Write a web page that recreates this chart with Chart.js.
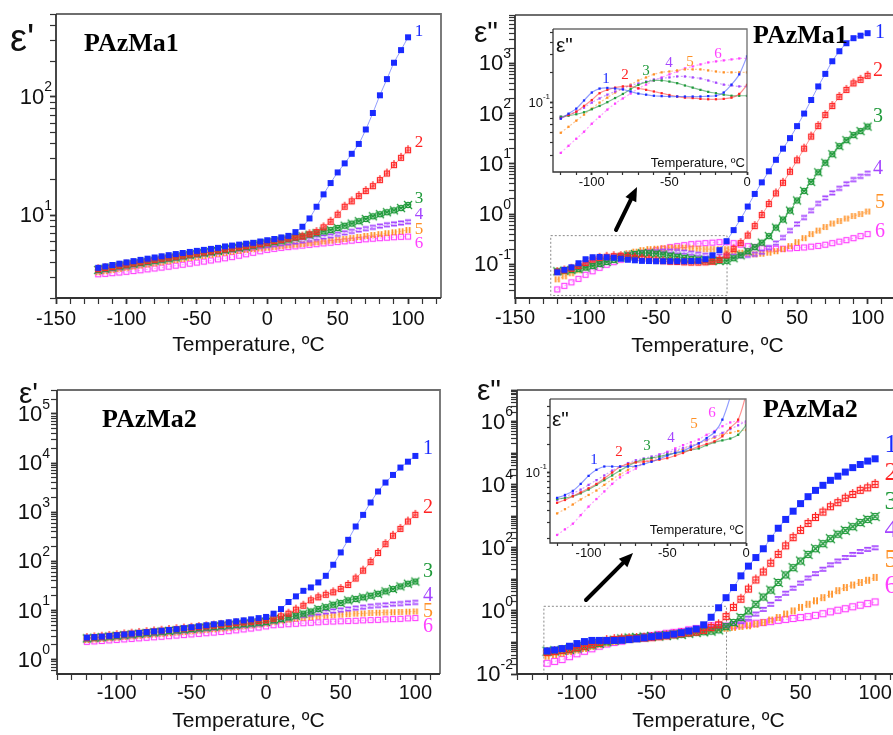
<!DOCTYPE html>
<html>
<head>
<meta charset="utf-8">
<script src="https://cdn.jsdelivr.net/npm/chart.js@4.4.1/dist/chart.umd.min.js"></script>
<style>
  html, body { margin: 0; padding: 0; background: #fff; }
  body { width: 893px; height: 735px; overflow: hidden; position: relative; }
  canvas { position: absolute; }
</style>
</head>
<body>
<canvas id="c1" width="450" height="362" style="left:0;top:0"></canvas>
<canvas id="c2" width="460" height="362" style="left:445px;top:0"></canvas>
<canvas id="c3" width="450" height="373" style="left:0;top:362px"></canvas>
<canvas id="c4" width="460" height="373" style="left:445px;top:362px"></canvas>
<canvas id="i1" width="240" height="182" style="left:515px;top:20px"></canvas>
<canvas id="i2" width="245" height="180" style="left:510px;top:390px"></canvas>
<script>
// temperatures, ºC
var temps = [-120, -115, -110, -105, -100, -95, -90, -85, -80, -75, -70, -65, -60, -55, -50, -45, -40, -35, -30, -25, -20, -15, -10, -5, 0,
  5, 10, 15, 20, 25, 30, 35, 40, 45, 50, 55, 60, 65, 70, 75, 80, 85, 90, 95, 100];
var curveNames = ['1', '2', '3', '4', '5', '6'];

// PAzMa1, eps'
var pa1Re1 = [3.6, 3.7, 3.8, 3.9, 4.0, 4.1, 4.2, 4.3, 4.4, 4.5, 4.6, 4.7, 4.8, 4.9, 5.0, 5.1, 5.2, 5.3, 5.45, 5.55, 5.65, 5.75, 5.85, 6.0, 6.15,
  6.3, 6.5, 6.7, 7.2, 8.0, 9.4, 11.8, 15.0, 18.7, 23, 27.4, 33, 40, 53, 73, 103, 141, 194, 248, 318];
var pa1Re2 = [3.5, 3.58, 3.65, 3.74, 3.83, 3.92, 4.0, 4.1, 4.2, 4.3, 4.38, 4.47, 4.56, 4.66, 4.75, 4.85, 4.95, 5.05, 5.15, 5.25, 5.36, 5.47, 5.58, 5.7, 5.85,
  6.05, 6.2, 6.35, 6.5, 6.6, 6.9, 7.2, 7.9, 8.8, 10.1, 11.8, 13.1, 14.5, 16, 17.6, 19.8, 22.5, 26.5, 30.5, 35.4];
var pa1Re3 = [3.45, 3.53, 3.61, 3.7, 3.78, 3.87, 3.95, 4.04, 4.13, 4.22, 4.31, 4.4, 4.5, 4.6, 4.69, 4.79, 4.89, 4.99, 5.09, 5.2, 5.3, 5.41, 5.52, 5.68, 5.8,
  5.95, 6.1, 6.25, 6.45, 6.65, 6.85, 7.05, 7.3, 7.5, 7.8, 8.15, 8.5, 8.9, 9.3, 9.8, 10.2, 10.6, 11.0, 11.5, 12.2];
var pa1Re4 = [3.4, 3.48, 3.56, 3.64, 3.72, 3.8, 3.89, 3.98, 4.07, 4.16, 4.25, 4.34, 4.43, 4.52, 4.61, 4.7, 4.79, 4.88, 4.98, 5.08, 5.18, 5.28, 5.38, 5.47, 5.55,
  5.65, 5.75, 5.85, 5.95, 6.1, 6.25, 6.4, 6.55, 6.7, 6.9, 7.1, 7.3, 7.5, 7.7, 7.9, 8.1, 8.3, 8.45, 8.6, 8.8];
var pa1Re5 = [3.3, 3.37, 3.45, 3.52, 3.6, 3.68, 3.76, 3.84, 3.92, 4.0, 4.09, 4.18, 4.27, 4.36, 4.45, 4.54, 4.63, 4.72, 4.82, 4.92, 5.01, 5.1, 5.18, 5.25, 5.32,
  5.4, 5.48, 5.56, 5.64, 5.72, 5.8, 5.9, 6.0, 6.1, 6.2, 6.3, 6.42, 6.55, 6.68, 6.8, 6.92, 7.05, 7.18, 7.32, 7.5];
var pa1Re6 = [3.17, 3.2, 3.24, 3.28, 3.33, 3.38, 3.43, 3.49, 3.55, 3.61, 3.68, 3.75, 3.82, 3.9, 3.98, 4.06, 4.15, 4.24, 4.33, 4.43, 4.55, 4.68, 4.82, 4.96, 5.1,
  5.2, 5.3, 5.38, 5.46, 5.54, 5.62, 5.7, 5.78, 5.86, 5.94, 6.02, 6.1, 6.18, 6.26, 6.33, 6.4, 6.46, 6.52, 6.57, 6.6];

// PAzMa1, eps''
var pa1Im1 = [0.0692, 0.0776, 0.0871, 0.105, 0.126, 0.138, 0.140, 0.138, 0.135, 0.129, 0.123, 0.120, 0.117, 0.116, 0.115, 0.115, 0.115, 0.115, 0.115, 0.116, 0.117, 0.126, 0.151, 0.191, 0.288,
  0.479, 0.794, 1.41, 2.51, 4.27, 7.08, 12.0, 20.0, 32.4, 56.2, 100, 186, 347, 617, 1100, 1740, 2510, 3160, 3550, 3980];
var pa1Im2 = [0.0698, 0.0753, 0.0813, 0.0927, 0.106, 0.124, 0.134, 0.141, 0.145, 0.145, 0.139, 0.134, 0.129, 0.124, 0.119, 0.115, 0.112, 0.111, 0.109, 0.108, 0.108, 0.109, 0.112, 0.122, 0.150,
  0.200, 0.263, 0.372, 0.575, 0.955, 1.58, 2.57, 4.17, 6.92, 11.7, 20.0, 34.7, 56.2, 93.3, 141, 214, 295, 398, 468, 562];
var pa1Im3 = [0.0724, 0.0741, 0.0766, 0.0802, 0.0859, 0.0927, 0.101, 0.111, 0.122, 0.136, 0.150, 0.160, 0.166, 0.166, 0.162, 0.156, 0.148, 0.141, 0.134, 0.128, 0.124, 0.120, 0.117, 0.117, 0.117,
  0.132, 0.151, 0.182, 0.219, 0.269, 0.363, 0.537, 0.776, 1.17, 1.86, 2.88, 4.37, 6.76, 10.5, 15.5, 22.4, 29.5, 37.2, 44.7, 55.0];
var pa1Im4 = [0.0724, 0.0759, 0.0813, 0.0891, 0.100, 0.110, 0.120, 0.129, 0.138, 0.148, 0.155, 0.162, 0.170, 0.174, 0.178, 0.182, 0.182, 0.178, 0.174, 0.166, 0.158, 0.151, 0.148, 0.145, 0.145,
  0.145, 0.148, 0.151, 0.158, 0.174, 0.214, 0.263, 0.339, 0.468, 0.631, 0.851, 1.17, 1.62, 2.09, 2.63, 3.24, 3.98, 4.84, 5.62, 6.46];
var pa1Im5 = [0.0501, 0.0575, 0.0661, 0.0759, 0.0871, 0.100, 0.112, 0.126, 0.138, 0.151, 0.166, 0.178, 0.191, 0.200, 0.204, 0.209, 0.214, 0.214, 0.214, 0.209, 0.204, 0.200, 0.200, 0.200, 0.200,
  0.182, 0.170, 0.162, 0.158, 0.162, 0.170, 0.182, 0.200, 0.229, 0.275, 0.331, 0.398, 0.468, 0.550, 0.646, 0.724, 0.813, 0.912, 1.0, 1.12];
var pa1Im6 = [0.0316, 0.0372, 0.0437, 0.0513, 0.0617, 0.0724, 0.0851, 0.0977, 0.110, 0.123, 0.138, 0.151, 0.166, 0.178, 0.191, 0.204, 0.219, 0.229, 0.240, 0.251, 0.257, 0.263, 0.269, 0.275, 0.275,
  0.263, 0.245, 0.229, 0.219, 0.209, 0.204, 0.204, 0.204, 0.207, 0.211, 0.216, 0.224, 0.232, 0.245, 0.263, 0.282, 0.302, 0.331, 0.363, 0.398];

// PAzMa2, eps'
var pa2Re1 = [2.82, 2.88, 2.95, 3.05, 3.16, 3.27, 3.39, 3.51, 3.63, 3.76, 3.89, 4.03, 4.17, 4.37, 4.57, 4.79, 5.01, 5.25, 5.50, 5.75, 6.03, 6.31, 6.61, 7.0, 7.41,
  8.61, 10.7, 14.9, 19.4, 25.2, 29.5, 37.3, 50.9, 85.3, 152, 275, 513, 885, 1580, 2640, 4020, 5750, 8110, 10700, 14000];
var pa2Re2 = [2.75, 2.84, 2.93, 3.04, 3.15, 3.26, 3.38, 3.5, 3.62, 3.75, 3.88, 4.02, 4.16, 4.3, 4.45, 4.6, 4.76, 4.93, 5.1, 5.3, 5.5, 5.7, 5.9, 6.1, 6.3,
  6.81, 7.59, 8.61, 10.4, 12.5, 16.1, 18.5, 20.9, 23.4, 27.3, 33.1, 44.7, 64.6, 96.6, 148, 224, 331, 457, 646, 885];
var pa2Re3 = [2.7, 2.78, 2.86, 2.95, 3.05, 3.15, 3.25, 3.36, 3.47, 3.58, 3.7, 3.82, 3.95, 4.08, 4.21, 4.35, 4.5, 4.65, 4.8, 4.96, 5.12, 5.28, 5.45, 5.65, 5.84,
  6.31, 6.71, 7.24, 7.83, 8.61, 9.55, 10.7, 11.7, 13.1, 14.2, 16.1, 17.1, 18.5, 20.0, 21.9, 24.5, 27.3, 30.9, 35.1, 38.9];
var pa2Re4 = [2.63, 2.7, 2.78, 2.86, 2.95, 3.04, 3.13, 3.23, 3.33, 3.44, 3.55, 3.66, 3.78, 3.9, 4.02, 4.15, 4.28, 4.42, 4.56, 4.7, 4.85, 5.0, 5.16, 5.35, 5.6,
  6.17, 6.61, 7.08, 7.5, 7.94, 8.41, 8.91, 9.33, 9.77, 10.2, 10.7, 11.2, 11.7, 12.2, 12.6, 13.0, 13.5, 13.8, 14.3, 14.6];
var pa2Re5 = [2.51, 2.58, 2.65, 2.73, 2.81, 2.89, 2.98, 3.07, 3.16, 3.26, 3.36, 3.46, 3.57, 3.68, 3.8, 3.92, 4.04, 4.17, 4.3, 4.44, 4.6, 4.78, 4.98, 5.2, 5.45,
  5.89, 6.24, 6.53, 6.84, 7.08, 7.33, 7.59, 7.85, 8.04, 8.22, 8.41, 8.61, 8.71, 8.91, 9.02, 9.12, 9.23, 9.33, 9.44, 9.55];
var pa2Re6 = [2.3, 2.35, 2.4, 2.46, 2.52, 2.58, 2.64, 2.71, 2.78, 2.85, 2.92, 3.0, 3.08, 3.17, 3.26, 3.35, 3.45, 3.55, 3.66, 3.8, 3.95, 4.12, 4.3, 4.5, 4.75,
  5.01, 5.13, 5.25, 5.37, 5.5, 5.62, 5.75, 5.89, 5.96, 6.03, 6.1, 6.17, 6.31, 6.38, 6.46, 6.61, 6.68, 6.76, 6.92, 7.03];

// PAzMa2, eps''
var pa2Im1 = [0.054, 0.058, 0.064, 0.0759, 0.0923, 0.107, 0.116, 0.116, 0.116, 0.116, 0.117, 0.123, 0.130, 0.140, 0.151, 0.162, 0.170, 0.186, 0.204, 0.232, 0.267, 0.363, 0.631, 1.26, 2.63,
  5.5, 12.9, 26.3, 49.0, 93.3, 200, 417, 794, 1450, 2510, 4170, 6610, 9550, 13800, 18600, 25100, 34700, 43700, 56200, 66100];
var pa2Im2 = [0.0479, 0.0513, 0.0562, 0.0617, 0.0682, 0.0759, 0.0871, 0.1, 0.115, 0.123, 0.128, 0.131, 0.133, 0.137, 0.142, 0.151, 0.161, 0.175, 0.189, 0.201, 0.214, 0.242, 0.297, 0.363, 0.66,
  1.29, 2.34, 4.9, 9.55, 17.0, 32.4, 61.7, 115, 209, 355, 589, 912, 1350, 2000, 2690, 3720, 4900, 6610, 7940, 10200];
var pa2Im3 = [0.0525, 0.0537, 0.0562, 0.0603, 0.0661, 0.0741, 0.0832, 0.0933, 0.105, 0.117, 0.129, 0.138, 0.143, 0.148, 0.155, 0.160, 0.166, 0.174, 0.180, 0.195, 0.209, 0.219, 0.229, 0.251, 0.316,
  0.427, 0.617, 1.0, 1.62, 2.75, 4.57, 7.94, 13.8, 23.4, 38.0, 61.7, 93.3, 135, 195, 269, 355, 468, 631, 794, 977];
var pa2Im4 = [0.0513, 0.055, 0.0603, 0.0661, 0.0741, 0.0832, 0.0933, 0.105, 0.115, 0.126, 0.135, 0.141, 0.148, 0.155, 0.162, 0.172, 0.182, 0.193, 0.204, 0.221, 0.240, 0.263, 0.288, 0.316, 0.347,
  0.398, 0.457, 0.589, 0.794, 1.12, 1.62, 2.45, 3.63, 5.25, 7.59, 11.0, 15.1, 20.9, 28.8, 38.0, 49.0, 61.7, 75.9, 89.1, 100];
var pa2Im5 = [0.037, 0.041, 0.046, 0.052, 0.058, 0.0646, 0.0741, 0.0851, 0.0955, 0.107, 0.117, 0.126, 0.135, 0.145, 0.155, 0.166, 0.178, 0.191, 0.204, 0.219, 0.234, 0.251, 0.263, 0.275, 0.282,
  0.302, 0.324, 0.339, 0.38, 0.427, 0.513, 0.617, 0.794, 1.0, 1.29, 1.62, 2.09, 2.63, 3.39, 4.37, 5.5, 6.61, 7.94, 9.33, 11.5];
var pa2Im6 = [0.0219, 0.0251, 0.0288, 0.0355, 0.0437, 0.0525, 0.0631, 0.0759, 0.0891, 0.1, 0.110, 0.126, 0.141, 0.155, 0.166, 0.180, 0.195, 0.209, 0.224, 0.251, 0.275, 0.309, 0.339, 0.347, 0.331,
  0.339, 0.363, 0.38, 0.407, 0.427, 0.457, 0.501, 0.537, 0.575, 0.617, 0.661, 0.724, 0.813, 0.933, 1.05, 1.17, 1.35, 1.51, 1.70, 1.93];

// axis ticks
var xTicksTop = [-150, -100, -50, 0, 50, 100];
var xTicksBottom = [-100, -50, 0, 50, 100];
var xTicksInset = [-100, -50, 0];
var yExpRe1 = [1, 2];
var yExpIm1 = [-1, 0, 1, 2, 3];
var yExpRe2 = [0, 1, 2, 3, 4, 5];
var yExpIm2 = [-2, 0, 2, 4, 6];
var yExpInset = [-1];

var SANS = '"Liberation Sans", Arial, sans-serif';
var SERIF = '"Liberation Serif", "Times New Roman", serif';
Chart.defaults.font.family = SANS;

var colors = ['#1a2bff', '#ff2424', '#1f9a3a', '#a445ff', '#ff9126', '#ff40ff'];
var lineColors = ['rgba(70,90,255,0.6)', 'rgba(255,70,70,0.6)', 'rgba(40,150,70,0.6)',
  'rgba(170,90,255,0.55)', 'rgba(255,150,60,0.55)', 'rgba(255,90,255,0.55)'];
var kinds = ['fill', 'boxPlus', 'circX', 'eq', 'pipes', 'box'];

// small canvases used as point styles
function marker(kind, color, s) {
  var c = document.createElement('canvas');
  var n = s + 6;
  c.width = n; c.height = n;
  var g = c.getContext('2d');
  var m = n / 2, h = s / 2;
  g.strokeStyle = color; g.fillStyle = color; g.lineWidth = 1.2;
  g.beginPath();
  if (kind === 'fill') {
    g.fillRect(m - h, m - h, s, s);
  } else if (kind === 'box') {
    g.strokeRect(m - h + 0.5, m - h + 0.5, s - 1, s - 1);
  } else if (kind === 'boxPlus') {
    g.strokeRect(m - h + 0.5, m - h + 0.5, s - 1, s - 1);
    g.moveTo(m, m - h - 2); g.lineTo(m, m + h);
    g.moveTo(m - h, m); g.lineTo(m + h, m);
  } else if (kind === 'circX') {
    g.arc(m, m, h - 0.3, 0, Math.PI * 2);
    g.moveTo(m - h - 1, m - h - 1); g.lineTo(m + h + 1, m + h + 1);
    g.moveTo(m + h + 1, m - h - 1); g.lineTo(m - h - 1, m + h + 1);
  } else if (kind === 'eq') {
    g.lineWidth = 1.6;
    g.moveTo(m - h, m - 1.6); g.lineTo(m + h, m - 1.6);
    g.moveTo(m - h, m + 1.6); g.lineTo(m + h, m + 1.6);
  } else if (kind === 'pipes') {
    g.lineWidth = 1.8;
    g.moveTo(m - 1.6, m - h); g.lineTo(m - 1.6, m + h);
    g.moveTo(m + 1.6, m - h); g.lineTo(m + 1.6, m + h);
  }
  g.stroke();
  return c;
}

function mainSets(series, size) {
  return series.map(function (vals, i) {
    return {
      label: curveNames[i],
      data: temps.map(function (t, j) { return { x: t, y: vals[j] }; }),
      borderColor: lineColors[i],
      borderWidth: 1,
      borderDash: i > 2 ? [2, 2] : [],
      pointStyle: marker(kinds[i], colors[i], size),
      pointRadius: size / 2,
      tension: 0.3
    };
  });
}

function insetSets(series) {
  return series.map(function (vals, i) {
    var pts = [];
    temps.forEach(function (t, j) { if (t <= 0) pts.push({ x: t, y: vals[j] }); });
    return {
      label: curveNames[i],
      data: pts,
      borderColor: lineColors[i],
      borderWidth: 1.2,
      borderDash: i > 2 ? [2, 2] : [],
      pointStyle: 'rect',
      pointRadius: 1.6,
      pointBackgroundColor: colors[i],
      pointBorderWidth: 0,
      tension: 0.35
    };
  });
}

function isDecade(v) {
  var l = Math.log10(v);
  return Math.abs(l - Math.round(l)) < 1e-9;
}

// "10" with a raised exponent, right aligned at x
function drawPow(ctx, x, y, e, size) {
  var sup = String(e), sSize = Math.round(size * 0.64);
  ctx.font = sSize + 'px ' + SANS;
  var ws = ctx.measureText(sup).width;
  ctx.font = size + 'px ' + SANS;
  var wb = ctx.measureText('10').width;
  ctx.fillStyle = '#111';
  ctx.textAlign = 'left';
  ctx.textBaseline = 'middle';
  ctx.fillText('10', x - ws - wb, y + 1);
  ctx.font = sSize + 'px ' + SANS;
  ctx.fillText(sup, x - ws, y - size * 0.42);
}

// per-canvas decoration settings, looked up by canvas id
var panelDecor = {};

function drawAxes(chart, o) {
  var ctx = chart.ctx, a = chart.chartArea, ys = chart.scales.y;
  var L = a.left, R = a.right, T = a.top, B = a.bottom;

  ctx.save();
  ctx.setLineDash([]);
  ctx.lineWidth = o.small ? 1.3 : 1.8;
  ctx.strokeStyle = '#6e6e6e';
  ctx.beginPath();
  ctx.moveTo(L, T); ctx.lineTo(R, T); ctx.lineTo(R, B);
  ctx.stroke();
  ctx.strokeStyle = '#333';
  ctx.beginPath();
  ctx.moveTo(L, T); ctx.lineTo(L, B); ctx.lineTo(R, B);
  ctx.stroke();

  o.yExp.forEach(function (e) {
    drawPow(ctx, L - o.labelGap, ys.getPixelForValue(Math.pow(10, e)), e, o.ySize);
  });

  var bx = o.box[0], by = o.box[1];
  o.texts.forEach(function (t) {
    ctx.font = t.font;
    ctx.fillStyle = t.color || '#111';
    ctx.textAlign = t.align || 'left';
    ctx.textBaseline = 'alphabetic';
    ctx.fillText(t.text, t.x - bx, t.y - by);
  });

  // curve numbers
  ctx.font = o.names.font;
  ctx.textAlign = 'center';
  ctx.textBaseline = 'middle';
  o.names.pos.forEach(function (p, i) {
    ctx.fillStyle = colors[i];
    ctx.fillText(curveNames[i], p[0] - bx, p[1] - by);
  });

  // arrow pointing at the inset
  if (o.arrow) {
    var r = o.arrow;
    var x1 = r[0] - bx, y1 = r[1] - by, x2 = r[2] - bx, y2 = r[3] - by;
    var ang = Math.atan2(y2 - y1, x2 - x1), c = Math.cos(ang), s = Math.sin(ang);
    var hl = 14, hw = 6;
    ctx.strokeStyle = '#000'; ctx.fillStyle = '#000';
    ctx.lineWidth = 4; ctx.lineCap = 'round';
    ctx.beginPath();
    ctx.moveTo(x1, y1); ctx.lineTo(x2 - hl * 0.8 * c, y2 - hl * 0.8 * s);
    ctx.stroke();
    ctx.beginPath();
    ctx.moveTo(x2, y2);
    ctx.lineTo(x2 - hl * c + hw * s, y2 - hl * s - hw * c);
    ctx.lineTo(x2 - hl * c - hw * s, y2 - hl * s + hw * c);
    ctx.closePath();
    ctx.fill();
  }
  ctx.restore();
}

var decor = {
  id: 'decor',
  beforeDatasetsDraw: function (chart) {
    var o = panelDecor[chart.canvas.id];
    var ctx = chart.ctx, a = chart.chartArea;
    ctx.save();
    if (o.fill) {
      ctx.fillStyle = o.fill;
      ctx.fillRect(a.left, a.top, a.right - a.left, a.bottom - a.top);
    }
    if (o.zoomBox) {
      var xs = chart.scales.x, ys = chart.scales.y, b = o.zoomBox;
      var x0 = xs.getPixelForValue(b.x[0]), x1 = xs.getPixelForValue(b.x[1]);
      var y0 = ys.getPixelForValue(b.y[1]), y1 = ys.getPixelForValue(b.y[0]);
      ctx.setLineDash([2, 2]);
      ctx.strokeStyle = '#8a8a8a';
      ctx.lineWidth = 1;
      ctx.strokeRect(x0 + 0.5, y0 + 0.5, x1 - x0, y1 - y0);
    }
    ctx.restore();
  },
  afterDraw: function (chart) {
    drawAxes(chart, panelDecor[chart.canvas.id]);
  }
};

function makeChart(id, cfg) {
  panelDecor[id] = cfg.decor;
  var tl = cfg.tickLen;
  return new Chart(document.getElementById(id), {
    type: 'line',
    data: { datasets: cfg.sets },
    options: {
      responsive: false,
      animation: false,
      devicePixelRatio: 1,
      layout: { padding: cfg.pad },
      plugins: { legend: { display: false }, tooltip: { enabled: false } },
      scales: {
        x: {
          type: 'linear', min: cfg.x[0], max: cfg.x[1],
          // tick marks only, every 10 degrees; labelled ones are wider
          grid: {
            display: true, drawOnChartArea: false, drawTicks: true, tickLength: tl, tickColor: '#333',
            tickWidth: function (c) { return c.tick && cfg.xTicks.indexOf(c.tick.value) >= 0 ? 1.8 : 1.2; }
          },
          border: { display: false },
          afterBuildTicks: function (s) {
            var t = [];
            for (var v = cfg.xFrom; v <= cfg.xTo; v += 10) t.push({ value: v });
            s.ticks = t;
          },
          afterFit: function (s) { s.height = cfg.xH; },
          ticks: {
            autoSkip: false, maxRotation: 0, padding: cfg.tickPad, color: '#111',
            font: { size: cfg.tickSize },
            callback: function (v) { return cfg.xTicks.indexOf(v) >= 0 ? String(v) : ''; }
          },
          title: {
            display: !!cfg.title, text: cfg.title || '', color: '#111',
            font: { size: 21 }, padding: { top: 0, bottom: cfg.titlePad || 0 }
          }
        },
        y: {
          type: 'logarithmic', min: cfg.y[0], max: cfg.y[1],
          // marks at 1..9 x 10^k, decades wider
          grid: {
            display: true, drawOnChartArea: false, drawTicks: true, tickLength: tl, tickColor: '#333',
            tickWidth: function (c) { return c.tick && isDecade(c.tick.value) ? 1.8 : 1.2; }
          },
          border: { display: false },
          afterBuildTicks: function (s) {
            var t = [], lo = Math.floor(Math.log10(cfg.y[0])), hi = Math.ceil(Math.log10(cfg.y[1]));
            for (var k = lo; k <= hi; k++) {
              for (var m = 1; m <= 9; m++) {
                var val = m * Math.pow(10, k);
                if (val >= cfg.y[0] && val <= cfg.y[1]) t.push({ value: val });
              }
            }
            s.ticks = t;
          },
          ticks: { display: false, autoSkip: false },
          afterFit: function (s) { s.width = cfg.yW; }
        }
      }
    },
    plugins: [decor]
  });
}

var TITLE = 'Temperature, ºC';

// PAzMa1, eps'
makeChart('c1', {
  sets: mainSets([pa1Re1, pa1Re2, pa1Re3, pa1Re4, pa1Re5, pa1Re6], 6),
  x: [-150, 123.4], y: [2, 500], xTicks: xTicksTop, xFrom: -150, xTo: 120,
  pad: { top: 14, right: 9, left: 0, bottom: 0 }, yW: 56, xH: 64, tickLen: 6,
  tickPad: 3, tickSize: 20, title: TITLE, titlePad: 4,
  decor: {
    box: [0, 0], yExp: yExpRe1, ySize: 22, labelGap: 4,
    texts: [
      { text: "ε'", x: 10, y: 51, font: '38px ' + SANS },
      { text: 'PAzMa1', x: 84, y: 51, font: 'bold 26px ' + SERIF, color: '#000' }
    ],
    names: { font: '17px ' + SERIF, pos: [[419, 32], [419, 143], [419, 199], [419, 215], [419, 230], [419, 244]] }
  }
});

// PAzMa1, eps''
makeChart('c2', {
  sets: mainSets([pa1Im1, pa1Im2, pa1Im3, pa1Im4, pa1Im5, pa1Im6], 6),
  x: [-150, 123], y: [0.0213, 9140], xTicks: xTicksTop, xFrom: -150, xTo: 120,
  pad: { top: 15, right: 5, left: 0, bottom: 0 }, yW: 70, xH: 64, tickLen: 6,
  tickPad: 2, tickSize: 20, title: TITLE, titlePad: 3,
  decor: {
    box: [445, 0], yExp: yExpIm1, ySize: 22, labelGap: 4,
    zoomBox: { x: [-125, 0], y: [0.0245, 0.38] },
    arrow: [616, 230, 637, 187],
    texts: [
      { text: 'ε"', x: 474, y: 42, font: '30px ' + SANS },
      { text: 'PAzMa1', x: 753, y: 43, font: 'bold 26px ' + SERIF, color: '#000' }
    ],
    names: { font: '20px ' + SERIF, pos: [[880, 33], [878, 71], [878, 117], [878, 169], [880, 203], [880, 232]] }
  }
});

// PAzMa2, eps'
makeChart('c3', {
  sets: mainSets([pa2Re1, pa2Re2, pa2Re3, pa2Re4, pa2Re5, pa2Re6], 6),
  x: [-140, 116.5], y: [0.51, 307000], xTicks: xTicksBottom, xFrom: -140, xTo: 110,
  pad: { top: 28, right: 10, left: 0, bottom: 0 }, yW: 57, xH: 61, tickLen: 6,
  tickPad: 1, tickSize: 20, title: TITLE, titlePad: 1,
  decor: {
    box: [0, 362], yExp: yExpRe2, ySize: 22, labelGap: 7,
    texts: [
      { text: "ε'", x: 19, y: 403, font: '30px ' + SANS },
      { text: 'PAzMa2', x: 102, y: 427, font: 'bold 26px ' + SERIF, color: '#000' }
    ],
    names: { font: '20px ' + SERIF, pos: [[428, 449], [428, 508], [428, 572], [428, 596], [428, 612], [428, 627]] }
  }
});

// PAzMa2, eps''
makeChart('c4', {
  sets: mainSets([pa2Im1, pa2Im2, pa2Im3, pa2Im4, pa2Im5, pa2Im6], 7),
  x: [-140.2, 116.7], y: [0.01, 1e7], xTicks: xTicksBottom, xFrom: -140, xTo: 110,
  pad: { top: 28, right: 5, left: 0, bottom: 0 }, yW: 72, xH: 61, tickLen: 6,
  tickPad: 1, tickSize: 20, title: TITLE, titlePad: 1,
  decor: {
    box: [445, 362], yExp: yExpIm2, ySize: 22, labelGap: 4,
    zoomBox: { x: [-122.5, 0], y: [0.0105, 1.45] },
    arrow: [586, 600, 633, 553],
    texts: [
      { text: 'ε"', x: 477, y: 400, font: '30px ' + SANS },
      { text: 'PAzMa2', x: 763, y: 417, font: 'bold 26px ' + SERIF, color: '#000' }
    ],
    names: { font: '26px ' + SERIF, pos: [[891, 445], [891, 473], [891, 502], [891, 530], [891, 560], [891, 586]] }
  }
});

// inset: PAzMa1, eps'' below 0 ºC
makeChart('i1', {
  sets: insetSets([pa1Im1, pa1Im2, pa1Im3, pa1Im4, pa1Im5, pa1Im6]),
  x: [-125, 0], y: [0.0204, 0.54], xTicks: xTicksInset, xFrom: -120, xTo: 0,
  pad: { top: 9, right: 8, left: 0, bottom: 0 }, yW: 38, xH: 30, tickLen: 3,
  tickPad: 0, tickSize: 13,
  decor: {
    small: true, box: [515, 20], fill: '#fff', yExp: yExpInset, ySize: 13, labelGap: 3,
    texts: [
      { text: 'ε"', x: 556, y: 52, font: '21px ' + SANS },
      { text: TITLE, x: 745, y: 167, font: '13px ' + SANS, align: 'right' }
    ],
    names: { font: '15px ' + SERIF, pos: [[606, 79], [625, 75], [646, 71], [669, 63], [690, 62], [718, 54]] }
  }
});

// inset: PAzMa2, eps'' below 0 ºC
makeChart('i2', {
  sets: insetSets([pa2Im1, pa2Im2, pa2Im3, pa2Im4, pa2Im5, pa2Im6]),
  x: [-124.5, 0], y: [0.018, 0.60], xTicks: xTicksInset, xFrom: -120, xTo: 0,
  pad: { top: 9, right: 9, left: 0, bottom: 0 }, yW: 40, xH: 27, tickLen: 3,
  tickPad: 0, tickSize: 13,
  decor: {
    small: true, box: [510, 390], fill: '#fff', yExp: yExpInset, ySize: 13, labelGap: 3,
    texts: [
      { text: 'ε"', x: 552, y: 426, font: '21px ' + SANS },
      { text: TITLE, x: 744, y: 534, font: '13px ' + SANS, align: 'right' }
    ],
    names: { font: '15px ' + SERIF, pos: [[594, 460], [619, 452], [647, 446], [671, 438], [694, 424], [712, 413]] }
  }
});
</script>
</body>
</html>
